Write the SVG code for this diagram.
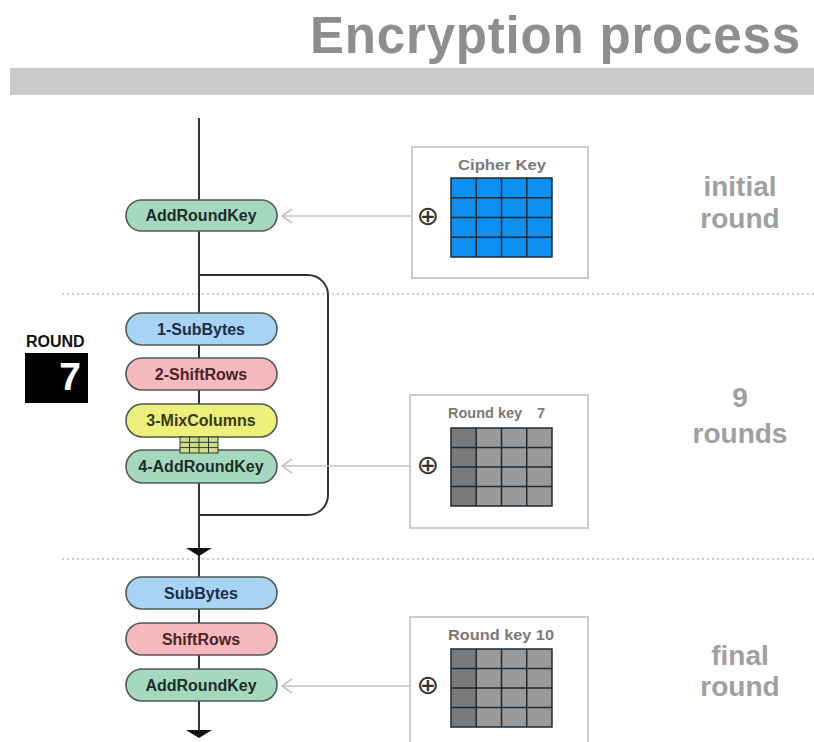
<svg xmlns="http://www.w3.org/2000/svg" width="814" height="742" viewBox="0 0 814 742">
  <style>
    .title { font-family: "Liberation Sans", Arial, sans-serif; font-weight: bold; font-size: 51px; fill: #8e8e8e; }
    .side { font-family: "Liberation Sans", Arial, sans-serif; font-weight: bold; font-size: 28px; fill: #a0a0a0; text-anchor: middle; }
    .node rect { stroke: #4e5a56; stroke-width: 1.6; }
    .node text { font-family: "Liberation Sans", Arial, sans-serif; font-weight: bold; font-size: 16px; text-anchor: middle; }
    .blue rect { fill: #a9d3f4; } .blue text { fill: #1d2d4a; }
    .pink rect { fill: #f6b9bd; } .pink text { fill: #4a2426; }
    .yellow rect { fill: #eef07c; } .yellow text { fill: #3a3a14; }
    .green rect { fill: #a6d8c0; } .green text { fill: #1c2e27; }
    .keybox { fill: #ffffff; stroke: #cccccc; stroke-width: 2; }
    .keytitle { font-family: "Liberation Sans", Arial, sans-serif; font-weight: bold; font-size: 14.5px; fill: #7a7a7a; }
    .xor { font-family: "DejaVu Sans", sans-serif; font-size: 27px; fill: #333333; text-anchor: middle; }
    .gridline { stroke: #1f2a33; stroke-width: 1.5; fill: none; }
    .flow { stroke: #333333; stroke-width: 2; fill: none; }
    .keyarrow { stroke: #c2c2c2; stroke-width: 1.5; fill: none; }
    .sep { stroke: #bdbdbd; stroke-width: 1.5; stroke-dasharray: 2 3; }
  </style>
  <defs>
    <!-- open chevron; drawn pointing along the path direction -->
    <marker id="chevron" markerWidth="14" markerHeight="18" refX="12" refY="9" orient="auto" markerUnits="userSpaceOnUse" overflow="visible">
      <path d="M2,2 L12,9 L2,16" fill="none" stroke="#c2c2c2" stroke-width="1.6"/>
    </marker>
  </defs>

  <!-- header -->
  <text class="title" x="310" y="53" textLength="490" lengthAdjust="spacing">Encryption process</text>
  <rect x="10" y="68" width="804" height="27" fill="#cbcbcb"/>

  <!-- section separators -->
  <line class="sep" x1="62" y1="294" x2="814" y2="294"/>
  <line class="sep" x1="62" y1="559" x2="814" y2="559"/>

  <!-- section labels -->
  <text class="side" x="740" y="196">initial</text>
  <text class="side" x="740" y="228">round</text>
  <text class="side" x="740" y="407">9</text>
  <text class="side" x="740" y="443">rounds</text>
  <text class="side" x="740" y="665">final</text>
  <text class="side" x="740" y="696">round</text>

  <!-- round counter -->
  <g id="round-counter">
    <text x="26" y="347" font-family="Liberation Sans, Arial, sans-serif" font-weight="bold" font-size="16" fill="#111">ROUND</text>
    <rect x="25" y="353" width="63" height="50" fill="#000000"/>
    <text x="81" y="390" font-family="Liberation Sans, Arial, sans-serif" font-weight="bold" font-size="39" fill="#ffffff" text-anchor="end">7</text>
  </g>

  <!-- connectors -->
  <g id="connectors">
    <line class="flow" x1="199" y1="118" x2="199" y2="734"/>
    <path class="flow" d="M199,275 H308 A20,20 0 0 1 328,295 V495 A20,20 0 0 1 308,515 H199"/>
    <path d="M186,548 L212,548 L199,556 Z" fill="#111111"/>
    <path d="M186,730 L212,730 L199,738 Z" fill="#111111"/>
    <line class="keyarrow" x1="412" y1="216" x2="282" y2="216" marker-end="url(#chevron)"/>
    <line class="keyarrow" x1="410" y1="466" x2="282" y2="466" marker-end="url(#chevron)"/>
    <line class="keyarrow" x1="410" y1="686" x2="282" y2="686" marker-end="url(#chevron)"/>
  </g>

  <!-- initial round -->
  <g id="ark-initial" class="node green">
    <rect x="126" y="200" width="151" height="31" rx="15.5"/>
    <text x="201" y="221">AddRoundKey</text>
  </g>

  <!-- main rounds -->
  <g id="subbytes-1" class="node blue">
    <rect x="126" y="313" width="151" height="32" rx="16"/>
    <text x="201" y="334.5">1-SubBytes</text>
  </g>
  <g id="shiftrows-2" class="node pink">
    <rect x="126" y="358" width="151" height="32" rx="16"/>
    <text x="201" y="379.5">2-ShiftRows</text>
  </g>
  <g id="mixcolumns-3" class="node yellow">
    <rect x="126" y="404" width="151" height="33" rx="16.5"/>
    <text x="201" y="425.5">3-MixColumns</text>
  </g>
  <g id="ark-4" class="node green">
    <rect x="126" y="450" width="151" height="33" rx="16.5"/>
    <text x="201" y="471.5">4-AddRoundKey</text>
  </g>
  <!-- small state matrix between MixColumns and AddRoundKey -->
  <g id="state-matrix">
    <rect x="180" y="437" width="38" height="16" fill="#cfdc8e" stroke="#2e3a2a" stroke-width="1"/>
    <path d="M189.5,437 V453 M199,437 V453 M208.5,437 V453 M180,442.3 H218 M180,447.6 H218" stroke="#2e3a2a" stroke-width="1" fill="none"/>
  </g>

  <!-- final round -->
  <g id="subbytes-final" class="node blue">
    <rect x="126" y="577" width="151" height="32" rx="16"/>
    <text x="201" y="598.5">SubBytes</text>
  </g>
  <g id="shiftrows-final" class="node pink">
    <rect x="126" y="623" width="151" height="32" rx="16"/>
    <text x="201" y="644.5">ShiftRows</text>
  </g>
  <g id="ark-final" class="node green">
    <rect x="126" y="669" width="151" height="32" rx="16"/>
    <text x="201" y="690.5">AddRoundKey</text>
  </g>

  <!-- cipher key -->
  <g id="cipher-key">
    <rect class="keybox" x="412" y="147" width="176" height="131"/>
    <text class="keytitle" x="458" y="170" textLength="88" lengthAdjust="spacingAndGlyphs">Cipher Key</text>
    <text class="xor" x="428" y="225">⊕</text>
    <rect x="451" y="178" width="101" height="79" rx="2" fill="#0b8ff0"/>
    <path class="gridline" d="M451,178 H552 V257 H451 Z M476.25,178 V257 M501.5,178 V257 M526.75,178 V257 M451,197.75 H552 M451,217.5 H552 M451,237.25 H552"/>
  </g>

  <!-- round key 7 -->
  <g id="round-key-7">
    <rect class="keybox" x="410" y="395" width="178" height="133"/>
    <text class="keytitle" x="448" y="418">Round key<tspan x="537">7</tspan></text>
    <text class="xor" x="428" y="474">⊕</text>
    <rect x="451" y="428" width="101" height="78" rx="2" fill="#9a9a9a"/>
    <rect x="451" y="428" width="25.25" height="78" fill="#7a7a7a"/>
    <path class="gridline" d="M451,428 H552 V506 H451 Z M476.25,428 V506 M501.5,428 V506 M526.75,428 V506 M451,447.5 H552 M451,467 H552 M451,486.5 H552"/>
  </g>

  <!-- round key 10 -->
  <g id="round-key-10">
    <rect class="keybox" x="410" y="617" width="178" height="140"/>
    <text class="keytitle" x="448" y="640" textLength="106" lengthAdjust="spacingAndGlyphs">Round key 10</text>
    <text class="xor" x="428" y="694">⊕</text>
    <rect x="451" y="649" width="101" height="78" rx="2" fill="#9a9a9a"/>
    <rect x="451" y="649" width="25.25" height="78" fill="#7a7a7a"/>
    <path class="gridline" d="M451,649 H552 V727 H451 Z M476.25,649 V727 M501.5,649 V727 M526.75,649 V727 M451,668.5 H552 M451,688 H552 M451,707.5 H552"/>
  </g>
</svg>
